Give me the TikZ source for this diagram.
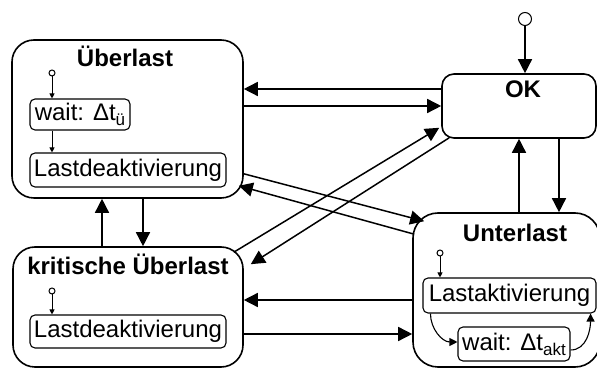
\documentclass[tikz,border=0pt]{standalone}
\usepackage{fontspec}
\setmainfont{Liberation Sans}
\usetikzlibrary{arrows.meta}
\newcommand{\fs}{\fontsize{24}{28}\selectfont}
\newcommand{\sbs}[1]{\raisebox{-5pt}{\fontsize{17}{20}\selectfont #1}}
\tikzset{
    stbox/.style ={draw, line width=1.6pt, rounded corners=22pt, inner sep=0pt},
    act/.style   ={draw, line width=1.1pt, rounded corners=5pt, inner sep=0pt,
                   font=\fs},
    ini/.style   ={draw, circle, line width=1pt, fill=white,
                   minimum size=6pt, inner sep=0pt},
    ttl/.style   ={font=\fs\bfseries, anchor=base, inner sep=0pt},
    ar/.style    ={-{Triangle[length=14pt,width=14pt]}, line width=1.5pt},
    ars/.style   ={-{Triangle[length=5pt,width=5pt]}, line width=0.9pt},
    arc/.style   ={-{Triangle[length=8pt,width=8pt]}, line width=1.1pt}
}

\begin{document}
\begin{tikzpicture}[x=1pt, y=1pt]
  \useasboundingbox (0,0) rectangle (597,369);

  % states
  \node[stbox, minimum width=231pt, minimum height=158pt] (ueber) at (127.5,250) {};
  \node[stbox, minimum width=154pt, minimum height=64pt, rounded corners=12pt] (ok) at (519,263) {};
  \node[stbox, minimum width=187pt, minimum height=154pt, rounded corners=25pt] (unter) at (506.5,79) {};
  \node[stbox, minimum width=230pt, minimum height=120pt] (krit) at (128,62) {};

  \node[ttl] (ueberT) at (125,302) {Überlast};
  \node[ttl] (okT)    at (523,271) {OK};
  \node[ttl] (unterT) at (515,127) {Unterlast};
  \node[ttl] (kritT)  at (128,94)  {kritische Überlast};

  % ueberlast inside
  \node[ini] (c1) at (52,296) {};
  \node[act, minimum width=100pt, minimum height=31pt] (w1) at (80,254.5) {wait: Δt\sbs{ü}};
  \node[act, minimum width=196pt, minimum height=34pt] (l1) at (128,199) {Lastdeaktivierung};
  \draw[ars] (c1) -- (c1 |- w1.north);
  \draw[ars] (c1 |- w1.south) -- (c1 |- l1.north);

  % kritische ueberlast inside
  \node[ini] (c2) at (52,78) {};
  \node[act, minimum width=196pt, minimum height=33pt] (l2) at (128,37.5) {Lastdeaktivierung};
  \draw[ars] (c2) -- (c2 |- l2.north);

  % unterlast inside
  \node[ini] (c3) at (440,116) {};
  \node[act, minimum width=173pt, minimum height=35pt] (la) at (509.5,73.5) {Lastaktivierung};
  \node[act, minimum width=112pt, minimum height=34pt] (wa) at (514,25) {wait: Δt\sbs{akt}};
  \draw[ars] (c3) -- (c3 |- la.north);
  \draw[arc] ([xshift=8pt]la.south west) to[out=-90, in=180] ([yshift=2pt]wa.west);
  \draw[arc] ([yshift=-6pt]wa.east) to[out=0, in=-90] ([xshift=-6pt]la.south east);

  % initial state
  \node[ini, minimum size=13pt] (c0) at (525,350) {};
  \draw[ar] (c0) -- (c0 |- ok.north);

  % transitions
  \draw[ar] ([yshift=17pt]ok.west) -- ([yshift=17pt]ok.west -| ueber.east);
  \draw[ar] (ok.west -| ueber.east) -- (ok.west);
  \draw[ar] ([shift={(-10pt,-6pt)}]krit.north east) -- ([shift={(-2pt,11pt)}]ok.south west);
  \draw[ar] ([shift={(8pt,1pt)}]ok.south west) -- ([shift={(7pt,-18pt)}]krit.north east);
  \draw[ar] ([yshift=25pt]ueber.south east) -- ([shift={(12pt,-9pt)}]unter.north west);
  \draw[ar] ([shift={(2pt,-22pt)}]unter.north west) -- ([shift={(-5pt,13pt)}]ueber.south east);
  \draw[ar] ([yshift=-10pt]unter.west) -- ([yshift=-10pt]unter.west -| krit.east);
  \draw[ar] ([yshift=-27pt]krit.east) -- ([yshift=-27pt]krit.east -| unter.west);
  \draw[ar] ([xshift=-26pt]krit.north) -- ([xshift=-26pt]krit.north |- ueber.south);
  \draw[ar] ([xshift=15.5pt]ueber.south) -- ([xshift=15.5pt]ueber.south |- krit.north);
  \draw[ar] ([xshift=12.5pt]unter.north) -- ([xshift=12.5pt]unter.north |- ok.south);
  \draw[ar] ([xshift=40pt]ok.south) -- ([xshift=40pt]ok.south |- unter.north);
\end{tikzpicture}
\end{document}
